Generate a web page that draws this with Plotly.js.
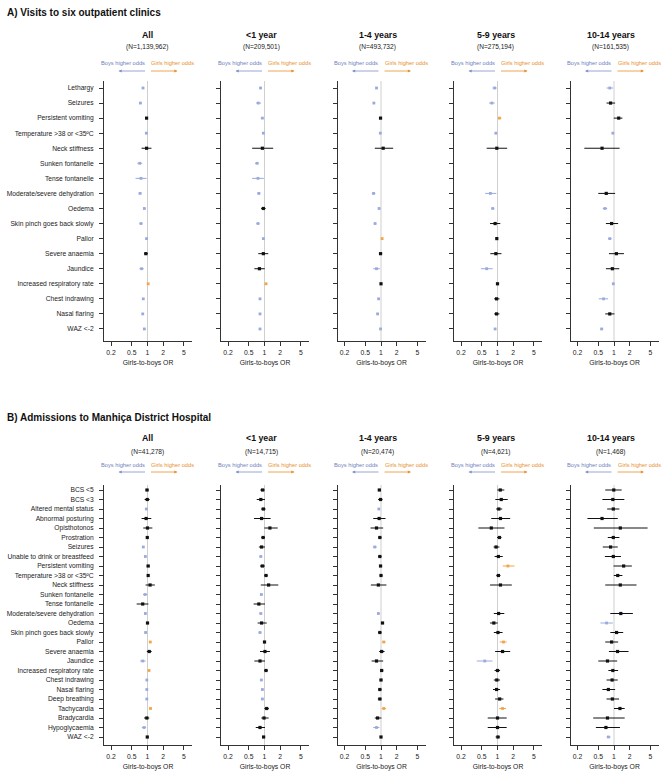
<!DOCTYPE html>
<html>
<head>
<meta charset="utf-8">
<script src="https://cdn.plot.ly/plotly-3.0.1.min.js"></script>
<style>html,body{margin:0;padding:0;background:#fff;}#chart{width:666px;height:783px;}</style>
</head>
<body>
<div id="chart"></div>
<script>
// ---------------- DATA ----------------
const ageGroups = ['All', '<1 year', '1-4 years', '5-9 years', '10-14 years'];
const nA = ['(N=1,139,962)', '(N=209,501)', '(N=493,732)', '(N=275,194)', '(N=161,535)'];
const nB = ['(N=41,278)', '(N=14,715)', '(N=20,474)', '(N=4,621)', '(N=1,468)'];
const xTicks = [0.2, 0.5, 1, 2, 5];
const xTickText = ['0.2', '0.5', '1', '2', '5'];

const labelsA = ['Lethargy', 'Seizures', 'Persistent vomiting', 'Temperature >38 or <35ºC', 'Neck stiffness',
  'Sunken fontanelle', 'Tense fontanelle', 'Moderate/severe dehydration', 'Oedema', 'Skin pinch goes back slowly',
  'Pallor', 'Severe anaemia', 'Jaundice', 'Increased respiratory rate', 'Chest indrawing', 'Nasal flaring', 'WAZ <-2'];

const labelsB = ['BCS <5', 'BCS <3', 'Altered mental status', 'Abnormal posturing', 'Opisthotonos', 'Prostration',
  'Seizures', 'Unable to drink or breastfeed', 'Persistent vomiting', 'Temperature >38 or <35ºC', 'Neck stiffness',
  'Sunken fontanelle', 'Tense fontanelle', 'Moderate/severe dehydration', 'Oedema', 'Skin pinch goes back slowly',
  'Pallor', 'Severe anaemia', 'Jaundice', 'Increased respiratory rate', 'Chest indrawing', 'Nasal flaring',
  'Deep breathing', 'Tachycardia', 'Bradycardia', 'Hypoglycaemia', 'WAZ <-2'];

// Panel A: outpatient visits (odds ratio, lower CI, upper CI)
const orA_all = [0.82, 0.73, 0.96, 0.95, 0.96, 0.71, 0.75, 0.72, 0.87, 0.75, 0.96, 0.93, 0.77, 1.03, 0.83, 0.81, 0.87];
const loA_all = [0.79, 0.69, 0.91, 0.93, 0.77, 0.64, 0.59, 0.68, 0.83, 0.70, 0.93, 0.86, 0.70, 1.01, 0.80, 0.78, 0.84];
const hiA_all = [0.86, 0.78, 1.02, 0.98, 1.19, 0.79, 0.96, 0.77, 0.91, 0.80, 0.99, 1.01, 0.85, 1.05, 0.86, 0.85, 0.90];

const orA_lt1 = [0.84, 0.76, 0.91, 0.95, 0.91, 0.72, 0.75, 0.78, 0.95, 0.75, 0.95, 0.95, 0.80, 1.07, 0.82, 0.82, 0.82];
const loA_lt1 = [0.80, 0.69, 0.85, 0.92, 0.58, 0.66, 0.58, 0.73, 0.86, 0.70, 0.92, 0.76, 0.64, 1.03, 0.79, 0.79, 0.78];
const hiA_lt1 = [0.88, 0.86, 0.97, 0.98, 1.47, 0.78, 0.97, 0.83, 1.05, 0.80, 0.98, 1.18, 1.01, 1.11, 0.86, 0.86, 0.86];

const orA_1to4 = [0.82, 0.73, 0.98, 0.97, 1.10, null, null, 0.72, 0.92, 0.77, 1.05, 0.98, 0.82, 1.00, 0.90, 0.86, 0.98];
const loA_1to4 = [0.79, 0.70, 0.93, 0.94, 0.76, null, null, 0.67, 0.89, 0.73, 1.02, 0.92, 0.71, 0.97, 0.87, 0.83, 0.96];
const hiA_1to4 = [0.86, 0.77, 1.04, 0.99, 1.71, null, null, 0.78, 0.96, 0.81, 1.09, 1.05, 0.95, 1.03, 0.94, 0.90, 0.995];

const orA_5to9 = [0.88, 0.78, 1.09, 0.93, 0.97, null, null, 0.73, 0.81, 0.90, 0.97, 0.93, 0.62, 1.00, 0.96, 0.96, 0.90];
const loA_5to9 = [0.80, 0.69, 1.02, 0.89, 0.62, null, null, 0.58, 0.76, 0.72, 0.93, 0.73, 0.48, 0.97, 0.86, 0.86, 0.86];
const hiA_5to9 = [0.97, 0.88, 1.19, 0.97, 1.53, null, null, 0.95, 0.87, 1.13, 1.02, 1.19, 0.81, 1.03, 1.09, 1.09, 0.94];

const orA_10to14 = [0.83, 0.86, 1.23, 0.95, 0.59, null, null, 0.71, 0.67, 0.90, 0.83, 1.11, 0.93, 0.97, 0.63, 0.83, 0.58];
const loA_10to14 = [0.72, 0.72, 0.99, 0.92, 0.27, null, null, 0.50, 0.61, 0.70, 0.77, 0.80, 0.70, 0.95, 0.51, 0.68, 0.55];
const hiA_10to14 = [0.96, 1.05, 1.45, 0.98, 1.28, null, null, 1.05, 0.74, 1.20, 0.90, 1.55, 1.26, 0.99, 0.77, 1.02, 0.62];

// Panel B: hospital admissions
const orB_all = [0.98, 0.99, 0.95, 0.94, 1.00, 0.99, 0.83, 0.91, 1.03, 1.03, 1.12, 0.90, 0.81, 0.91, 1.00, 0.92, 1.13, 1.08, 0.81, 1.07, 0.97, 0.97, 0.97, 1.14, 0.97, 0.86, 0.99];
const loB_all = [0.91, 0.88, 0.91, 0.77, 0.83, 0.94, 0.79, 0.87, 0.96, 0.98, 0.92, 0.82, 0.62, 0.87, 0.94, 0.88, 1.08, 0.97, 0.72, 1.03, 0.94, 0.94, 0.94, 1.08, 0.86, 0.78, 0.94];
const hiB_all = [1.05, 1.10, 0.99, 1.18, 1.24, 1.04, 0.87, 0.95, 1.10, 1.08, 1.38, 0.99, 1.04, 0.95, 1.06, 0.96, 1.19, 1.20, 0.92, 1.11, 0.995, 0.995, 0.995, 1.20, 1.08, 0.94, 1.04];

const orB_lt1 = [0.92, 0.85, 0.95, 0.88, 1.27, 0.94, 0.88, 0.85, 0.91, 1.07, 1.20, 0.87, 0.78, 0.85, 0.88, 0.82, 1.00, 1.02, 0.82, 1.07, 0.87, 0.91, 0.91, 1.10, 0.98, 0.82, 0.96];
const loB_lt1 = [0.83, 0.71, 0.86, 0.63, 0.99, 0.87, 0.78, 0.80, 0.82, 0.995, 0.85, 0.82, 0.62, 0.80, 0.74, 0.77, 0.94, 0.82, 0.64, 0.99, 0.82, 0.86, 0.86, 0.995, 0.87, 0.68, 0.90];
const hiB_lt1 = [1.01, 1.02, 1.05, 1.31, 1.79, 1.02, 1.02, 0.90, 1.02, 1.14, 1.84, 0.92, 1.02, 0.90, 1.10, 0.87, 1.07, 1.27, 1.02, 1.15, 0.92, 0.96, 0.96, 1.21, 1.20, 1.02, 1.03];

const orB_1to4 = [0.93, 0.98, 0.91, 0.92, 0.82, 0.95, 0.76, 0.95, 0.98, 1.00, 0.89, null, null, 0.89, 1.07, 0.95, 1.13, 1.03, 0.82, 1.03, 1.00, 0.95, 0.95, 1.13, 0.86, 0.82, 1.00];
const loB_1to4 = [0.87, 0.88, 0.87, 0.71, 0.63, 0.89, 0.70, 0.89, 0.92, 0.95, 0.64, null, null, 0.85, 0.995, 0.88, 1.05, 0.92, 0.66, 0.97, 0.94, 0.89, 0.87, 1.03, 0.76, 0.71, 0.95];
const hiB_1to4 = [1.00, 1.07, 0.95, 1.22, 1.10, 1.02, 0.83, 1.02, 1.05, 1.06, 1.27, null, null, 0.94, 1.14, 1.02, 1.22, 1.17, 1.10, 1.10, 1.06, 1.02, 1.03, 1.25, 1.02, 0.93, 1.05];

const orB_5to9 = [1.13, 1.18, 1.06, 1.14, 0.76, 1.09, 0.94, 1.04, 1.58, 1.04, 1.14, null, null, 1.05, 0.85, 1.02, 1.30, 1.25, 0.57, 1.00, 0.97, 0.96, 1.10, 1.25, 1.00, 1.00, 1.02];
const loB_5to9 = [0.99, 0.91, 0.94, 0.76, 0.43, 0.98, 0.84, 0.88, 1.26, 0.95, 0.72, null, null, 0.85, 0.72, 0.85, 1.10, 0.90, 0.40, 0.88, 0.85, 0.82, 0.90, 1.08, 0.65, 0.65, 0.92];
const hiB_5to9 = [1.35, 1.57, 1.23, 1.75, 1.36, 1.19, 1.09, 1.26, 2.12, 1.14, 1.88, null, null, 1.35, 1.01, 1.25, 1.50, 1.75, 0.80, 1.12, 1.12, 1.12, 1.30, 1.45, 1.50, 1.50, 1.12];

const orB_10to14 = [0.99, 0.95, 0.97, 0.59, 1.32, 0.97, 0.86, 0.97, 1.53, 1.18, 1.32, null, null, 1.35, 0.72, 1.12, 0.90, 1.17, 0.75, 0.95, 0.92, 0.78, 0.93, 1.30, 0.75, 0.70, 0.78];
const loB_10to14 = [0.68, 0.60, 0.74, 0.31, 0.41, 0.76, 0.61, 0.67, 0.98, 0.99, 0.68, null, null, 0.85, 0.55, 0.85, 0.68, 0.80, 0.50, 0.78, 0.72, 0.60, 0.72, 1.00, 0.40, 0.45, 0.72];
const hiB_10to14 = [1.40, 1.58, 1.27, 1.18, 4.40, 1.27, 1.18, 1.36, 2.20, 1.45, 2.70, null, null, 2.30, 0.95, 1.50, 1.20, 1.90, 1.15, 1.20, 1.18, 1.05, 1.25, 1.60, 1.60, 1.30, 0.86];

// ---------------- LAYOUT / DRAWING ----------------
const W = 666, H = 783;
const FONT = 'Liberation Sans, Arial, Helvetica, sans-serif';
const BLUE = '#9aaade', ORANGE = '#f2a548', BLACK = '#111111';
const px = v => v / W, py = v => 1 - v / H;

const sections = [
  {labels: labelsA, ns: nA, top: 81, bot: 341, firstTick: 88, step: 15.06,
   hdr: 35, nrow: 47, oddsY: 63, arrowY: 71, title: 'A) Visits to six outpatient clinics', titleY: 13,
   data: [[orA_all, loA_all, hiA_all], [orA_lt1, loA_lt1, hiA_lt1], [orA_1to4, loA_1to4, hiA_1to4],
          [orA_5to9, loA_5to9, hiA_5to9], [orA_10to14, loA_10to14, hiA_10to14]]},
  {labels: labelsB, ns: nB, top: 485, bot: 745, firstTick: 490, step: 9.5,
   hdr: 438, nrow: 452, oddsY: 465, arrowY: 472, title: 'B) Admissions to Manhiça District Hospital', titleY: 417,
   data: [[orB_all, loB_all, hiB_all], [orB_lt1, loB_lt1, hiB_lt1], [orB_1to4, loB_1to4, hiB_1to4],
          [orB_5to9, loB_5to9, hiB_5to9], [orB_10to14, loB_10to14, hiB_10to14]]}
];

const colX0 = [104, 221, 337.5, 454, 570.5];
const plotW = 88;
const oneOff = 43.5;          // pixel offset of OR=1 from axis start
const pxPerDec = 52.2;
const hdrX = [147, 261, 377.5, 495.5, 610.5];

const traces = [], shapes = [], annotations = [];
const layout = {
  width: W, height: H, margin: {l: 0, r: 0, t: 0, b: 0},
  paper_bgcolor: '#fff', plot_bgcolor: '#fff', showlegend: false,
  font: {family: FONT, color: '#222', size: 7}
};

sections.forEach((sec, s) => {
  const yIdx = sec.labels.map((_, i) => i);
  const yTopVal = (sec.top - sec.firstTick) / sec.step;
  const yBotVal = (sec.bot - sec.firstTick) / sec.step;

  annotations.push({xref: 'paper', yref: 'paper', x: px(5), y: py(sec.titleY), xanchor: 'left', yanchor: 'middle',
    text: '<b>' + sec.title + '</b>', showarrow: false, font: {family: FONT, size: 10, color: '#111'}});

  sec.data.forEach((d, c) => {
    const k = s * 5 + c + 1;
    const xa = k === 1 ? 'xaxis' : 'xaxis' + k;
    const ya = k === 1 ? 'yaxis' : 'yaxis' + k;
    const xr = k === 1 ? 'x' : 'x' + k;
    const yr = k === 1 ? 'y' : 'y' + k;
    const x0 = colX0[c];

    layout[xa] = {
      domain: [px(x0), px(x0 + plotW)], anchor: yr, type: 'log',
      range: [-oneOff / pxPerDec, (plotW - oneOff) / pxPerDec],
      tickvals: xTicks, ticktext: xTickText, ticks: 'outside', ticklen: 4, tickwidth: 1, tickcolor: '#333',
      showline: true, linecolor: '#333', linewidth: 1, showgrid: false, zeroline: false,
      tickfont: {family: FONT, size: 6.8, color: '#222'}, ticklabelstandoff: 1,
      title: {text: 'Girls-to-boys OR', font: {family: FONT, size: 6.8, color: '#222'}, standoff: 5},
      fixedrange: true
    };
    layout[ya] = {
      domain: [py(sec.bot), py(sec.top)], anchor: xr,
      range: [yBotVal, yTopVal],
      tickvals: yIdx, ticktext: sec.labels, showticklabels: c === 0,
      ticks: 'outside', ticklen: 4, tickwidth: 1, tickcolor: '#333',
      showline: true, linecolor: '#333', linewidth: 1, showgrid: false, zeroline: false,
      tickfont: {family: FONT, size: 6.7, color: '#222'}, ticklabelstandoff: 4,
      fixedrange: true
    };

    shapes.push({type: 'line', xref: xr, yref: yr + ' domain', x0: 1, x1: 1, y0: 0, y1: 1,
      line: {color: '#cfcfcf', width: 1}, layer: 'below'});

    // group by significance colour
    const groups = {blue: [], orange: [], black: []};
    d[0].forEach((v, i) => {
      if (v === null) return;
      const lo = d[1][i], hi = d[2][i];
      const g = hi < 1 ? 'blue' : (lo > 1 ? 'orange' : 'black');
      groups[g].push({x: v, y: i, lo: lo, hi: hi});
    });
    const colors = {blue: BLUE, orange: ORANGE, black: BLACK};
    Object.keys(groups).forEach(g => {
      const pts = groups[g];
      if (!pts.length) return;
      traces.push({
        type: 'scatter', mode: 'markers', xaxis: xr, yaxis: yr,
        x: pts.map(p => p.x), y: pts.map(p => p.y),
        marker: {symbol: 'square', size: g === 'black' ? 3.2 : 2.8, color: colors[g]},
        error_x: {type: 'data', symmetric: false, array: pts.map(p => p.hi - p.x),
          arrayminus: pts.map(p => p.x - p.lo), color: colors[g], thickness: 1, width: 0},
        hoverinfo: 'skip', cliponaxis: false
      });
    });

    // headers
    const oneX = x0 + oneOff;
    annotations.push({xref: 'paper', yref: 'paper', x: px(hdrX[c]), y: py(sec.hdr), xanchor: 'center', yanchor: 'middle',
      text: '<b>' + ageGroups[c] + '</b>', showarrow: false, font: {family: FONT, size: 8.8, color: '#111'}});
    annotations.push({xref: 'paper', yref: 'paper', x: px(hdrX[c]), y: py(sec.nrow), xanchor: 'center', yanchor: 'middle',
      text: sec.ns[c], showarrow: false, font: {family: FONT, size: 6.6, color: '#222'}});
    annotations.push({xref: 'paper', yref: 'paper', x: px(oneX - 1), y: py(sec.oddsY), xanchor: 'right', yanchor: 'middle',
      text: 'Boys higher odds', showarrow: false, font: {family: FONT, size: 5.7, color: '#6f7fc0'}});
    annotations.push({xref: 'paper', yref: 'paper', x: px(oneX + 1.5), y: py(sec.oddsY), xanchor: 'left', yanchor: 'middle',
      text: 'Girls higher odds', showarrow: false, font: {family: FONT, size: 5.7, color: '#e8902a'}});
    annotations.push({xref: 'paper', yref: 'paper', x: px(oneX - 29), y: py(sec.arrowY), text: '',
      showarrow: true, ax: 28, ay: 0, arrowhead: 2, arrowsize: 0.8, arrowwidth: 0.8, arrowcolor: '#7f8fc8', standoff: 0, startstandoff: 0});
    annotations.push({xref: 'paper', yref: 'paper', x: px(oneX + 30), y: py(sec.arrowY), text: '',
      showarrow: true, ax: -28, ay: 0, arrowhead: 2, arrowsize: 0.8, arrowwidth: 0.8, arrowcolor: '#e8902a', standoff: 0, startstandoff: 0});
  });
});

layout.shapes = shapes;
layout.annotations = annotations;

Plotly.newPlot('chart', traces, layout, {displayModeBar: false, staticPlot: true});
</script>
</body>
</html>
